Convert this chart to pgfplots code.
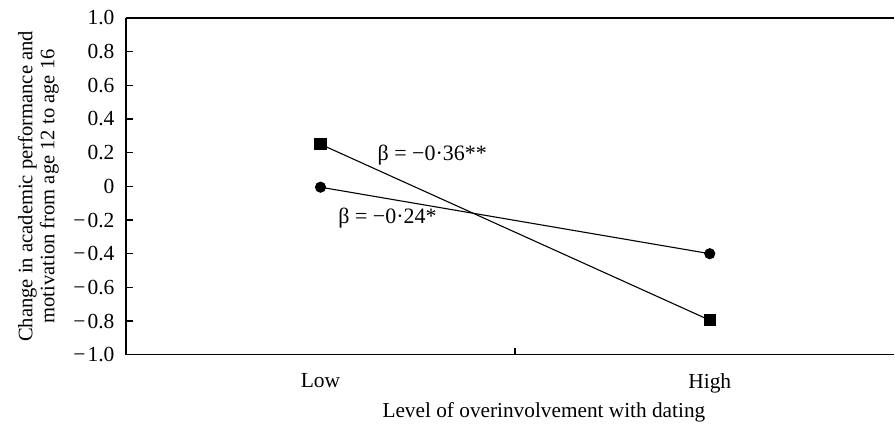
\documentclass[border=0pt]{standalone}
\usepackage{fontspec}
\setmainfont{Liberation Serif}
\usepackage{pgfplots}
\pgfplotsset{compat=1.18}
\begin{document}
\begin{tikzpicture}
\begin{axis}[
  name=ax,
  scale only axis,
  width=769bp, height=337bp,
  xmin=0.5, xmax=2.474,
  ymin=-1, ymax=1,
  axis lines*=left,
  axis line style={line width=1.5bp},
  xtick={1.5}, xticklabels={},
  major tick length=7bp,
  tick style={line width=1.3bp, black},
  extra x ticks={1,2},
  extra x tick labels={Low,High},
  extra x tick style={major tick length=0pt},
  ytick={-1,-0.8,-0.6,-0.4,-0.2,0,0.2,0.4,0.6,0.8,1},
  yticklabels={−\kern2bp1.0,−\kern2bp0.8,−\kern2bp0.6,−\kern2bp0.4,−\kern2bp0.2,0,0.2,0.4,0.6,0.8,1.0},
  tick label style={font=\fontsize{21.5bp}{24bp}\selectfont},
  yticklabel style={xshift=-8bp},
  xticklabel style={yshift=-15bp},
  xlabel={Level of overinvolvement with dating},
  xlabel style={font=\fontsize{21.3bp}{24bp}\selectfont, at={(axis description cs:0.544,-0.17)}, anchor=center},
  ylabel={Change in academic performance and\\motivation from age 12 to age 16},
  ylabel style={font=\fontsize{20.6bp}{22bp}\selectfont, align=center, at={(axis description cs:-0.114,0.5)}, anchor=center, rotate=0},
  clip=false,
]
\addplot[black, line width=1.1bp, mark=square*, mark size=5.5bp] coordinates {(1,0.25) (2,-0.795)};
\addplot[black, line width=1.1bp, mark=*, mark size=5bp] coordinates {(1,-0.005) (2,-0.40)};
\draw[line width=1.5bp] (rel axis cs:0,1) -- (rel axis cs:1,1);
\node[font=\fontsize{22bp}{24bp}\selectfont] at (axis cs:1.287,0.187) {β = −0·36**};
\node[font=\fontsize{22bp}{24bp}\selectfont] at (axis cs:1.172,-0.187) {β = −0·24*};
\end{axis}
\path ([shift={(-126bp,18bp)}]ax.north west) rectangle ([shift={(0bp,-74bp)}]ax.south east);
\end{tikzpicture}
\end{document}
